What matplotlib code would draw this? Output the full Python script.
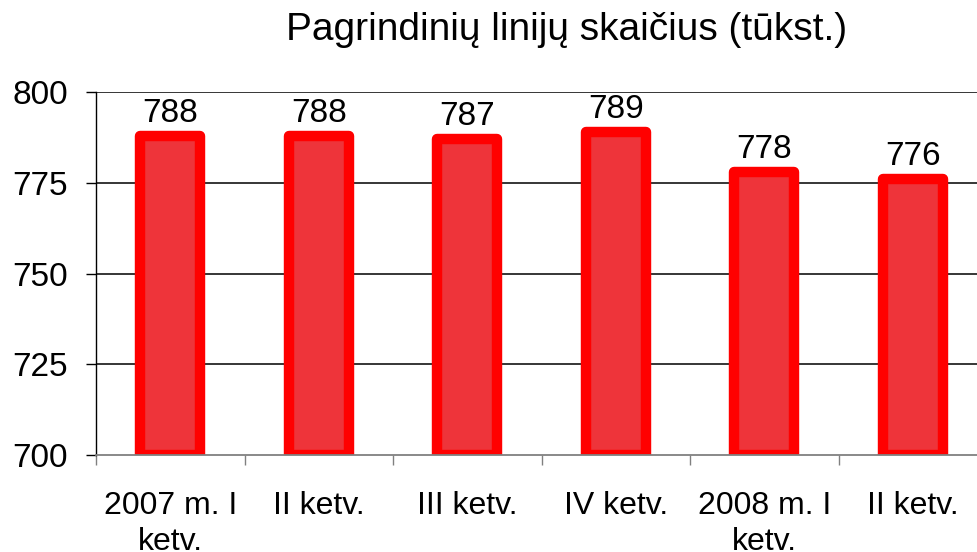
import matplotlib
matplotlib.use('Agg')
import matplotlib.pyplot as plt
import numpy as np

plt.rcParams['font.family'] = ['Liberation Sans', 'DejaVu Sans']

# data
categories = ['2007 m. I\nketv.', 'II ketv.', 'III ketv.', 'IV ketv.', '2008 m. I\nketv.', 'II ketv.']
values = [788, 788, 787, 789, 778, 776]
yticks = [700, 725, 750, 775, 800]
title = 'Pagrindinių linijų skaičius (tūkst.)'

W, H = 977, 552
fig = plt.figure(figsize=(W / 100, H / 100), dpi=100)
# plot area: left spine x=96, y=700 at 455, y=800 at 92; 6 slots of ~148.5 px
left, right, top, bottom = 96, 96 + 6 * 148.5, 92, 455
ax = fig.add_axes([left / W, 1 - bottom / H, (right - left) / W, (bottom - top) / H])

x = np.arange(len(values))
ax.set_xlim(-0.5, len(values) - 0.5)
ax.set_ylim(700, 800)

for yt in yticks[1:]:
    ax.axhline(yt, color='black', lw=1.1, zorder=1)

bars = ax.bar(x, np.array(values) - 700, bottom=700, width=0.405,
              color='#EE343A', edgecolor='#FF0000', linewidth=7.5,
              joinstyle='round', zorder=2)

for xi, v in zip(x, values):
    ax.annotate(str(v), (xi, v), xytext=(0, 5), textcoords='offset points',
                ha='center', va='bottom', fontsize=24, color='black')

ax.set_yticks(yticks)
ax.set_yticklabels([str(t) for t in yticks])
ax.tick_params(axis='y', direction='out', length=7, width=1, labelsize=24, pad=13, colors='black')

ax.set_xticks(np.arange(len(values) + 1) - 0.5)
ax.set_xticklabels([])
ax.tick_params(axis='x', which='major', direction='out', length=7, width=1, color='#808080')
ax.set_xticks(x, minor=True)
ax.set_xticklabels(categories, minor=True, fontsize=23, linespacing=1.25)
ax.tick_params(axis='x', which='minor', length=0, pad=26)

for s in ['top', 'right']:
    ax.spines[s].set_visible(False)
ax.spines['left'].set_color('black')
ax.spines['left'].set_linewidth(1)
ax.spines['bottom'].set_color('#808080')
ax.spines['bottom'].set_linewidth(1.3)
ax.spines['bottom'].set_zorder(3)

fig.text(567 / W, 1 - 30 / H, title, ha='center', va='center', fontsize=28)

fig.savefig('out.png', dpi=100)
